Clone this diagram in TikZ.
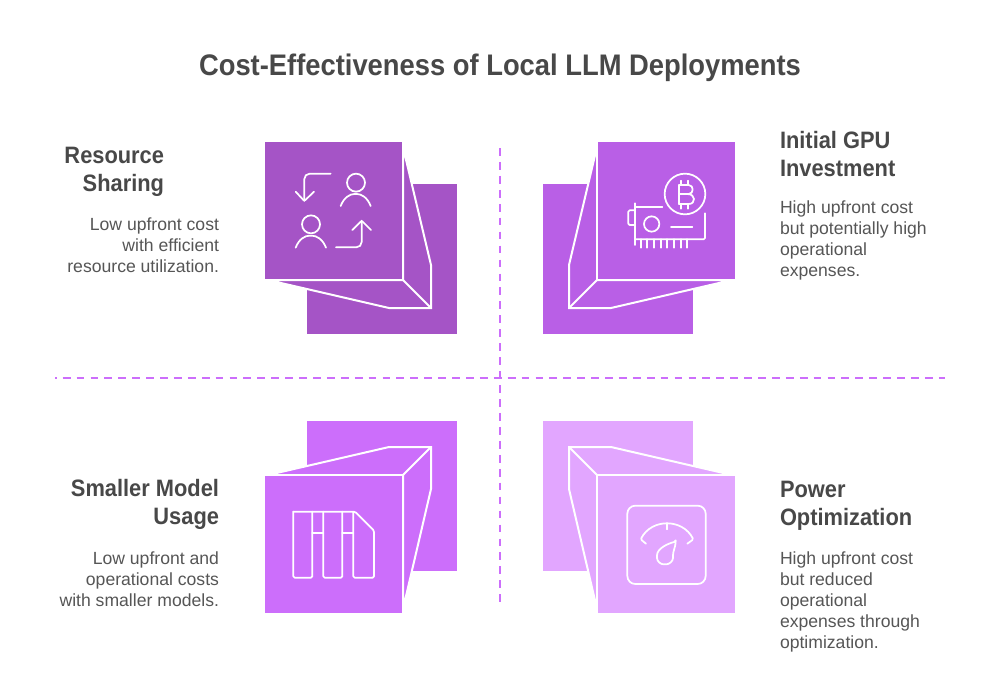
\documentclass[tikz,border=0pt]{standalone}
\usepackage{fontspec}
\setmainfont{Liberation Sans}[BoldFeatures={FakeStretch=0.92}]
\definecolor{tlc}{HTML}{A554C6}
\definecolor{trc}{HTML}{B95FE6}
\definecolor{blc}{HTML}{CC6EFB}
\definecolor{brc}{HTML}{E2A6FF}
\definecolor{dashc}{HTML}{CC6EFB}
\definecolor{headc}{HTML}{484848}
\definecolor{bodyc}{HTML}{565656}
\tikzset{
  facepoly/.style={draw=white,line width=1.5pt,line join=miter,miter limit=40},
  edgeline/.style={draw=white,line width=1.5pt},
  iconline/.style={draw=white,line width=1.3pt,line cap=round,line join=round,rounded corners=1pt},
  divider/.style={draw=dashc,line width=1.6pt},
  hdash/.style={dash pattern=on 5.85pt off 4.58pt,dash phase=4.65pt},
  vdash/.style={dash pattern=on 5.8pt off 4.66pt},
  txt/.style={inner sep=0pt,outer sep=0pt,execute at begin node={\rule{0pt}{10pt}}},
  heading/.style={txt,text=headc,font=\bfseries\fontsize{17.8pt}{21pt}\selectfont},
  body/.style={txt,text=bodyc,font=\fontsize{13.2pt}{15.75pt}\selectfont},
  titletext/.style={inner sep=0pt,text=headc,font=\bfseries\fontsize{22.3pt}{26pt}\selectfont},
  iconscope/.style={x=.25pt,y=-.25pt}
}
\begin{document}
\begin{tikzpicture}[x=.75pt,y=-.75pt]
\useasboundingbox (0,0) rectangle (1000,700);
\fill[white] (0,0) rectangle (1000,700);

\node[titletext,anchor=base] (title) at (500,75) {Cost-Effectiveness of Local LLM Deployments};

% dividers
\coordinate (hl) at (55,378);
\coordinate (hr) at (945,378);
\coordinate (vt) at (500,148);
\coordinate (vb) at (500,608);
\draw[divider,hdash] (hl) -- (hr);
\draw[divider,vdash] (vt) -- (vb);

% top left
\fill[tlc] (307,184) rectangle (457,334);
\path[fill=tlc,facepoly] (403,147) -- (431,265) -- (431,308) -- (389,308) -- (268,280) -- (403,280) -- cycle;
\draw[edgeline] (403,280) -- (431,308);
\fill[tlc] (265,142) rectangle (402,279);

% top right
\fill[trc] (543,184) rectangle (693,334);
\path[fill=trc,facepoly] (597,147) -- (569,265) -- (569,308) -- (611,308) -- (732,280) -- (597,280) -- cycle;
\draw[edgeline] (597,280) -- (569,308);
\fill[trc] (598,142) rectangle (735,279);

% bottom left
\fill[blc] (307,421) rectangle (457,571);
\path[fill=blc,facepoly] (403,609) -- (431,489) -- (431,447) -- (389,447) -- (268,475) -- (403,475) -- cycle;
\draw[edgeline] (403,475) -- (431,447);
\fill[blc] (265,476) rectangle (402,613);

% bottom right
\fill[brc] (543,421) rectangle (693,571);
\path[fill=brc,facepoly] (597,609) -- (569,489) -- (569,447) -- (611,447) -- (732,475) -- (597,475) -- cycle;
\draw[edgeline] (597,475) -- (569,447);
\fill[brc] (598,476) rectangle (735,613);

% icon: people swapping
\begin{scope}[shift={(250,130)},iconscope]
\draw[iconline,rounded corners=4pt] (242,131) -- (163,131) -- (163,213);
\draw[iconline] (137,185) -- (163,213) -- (192,185);
\draw[iconline] (318,158) circle[radius=27];
\draw[iconline] (272,228) .. controls (282,202) and (300,192) .. (317,192) .. controls (334,192) and (352,202) .. (362,228);
\draw[iconline] (183,283) circle[radius=27];
\draw[iconline] (137,353) .. controls (147,327) and (165,317) .. (182,317) .. controls (199,317) and (218,327) .. (228,353);
\draw[iconline,rounded corners=4pt] (258,352) -- (335,352) -- (335,272);
\draw[iconline] (307,300) -- (335,272) -- (363,300);
\end{scope}

% icon: GPU and coin
\begin{scope}[shift={(530,130)},iconscope]
\draw[iconline] (465,192) circle[radius=61];
\draw[iconline] (447,165) -- (447,222);
\draw[iconline] (447,165) -- (472,165) .. controls (492,165) and (492,192) .. (472,192) -- (447,192);
\draw[iconline] (472,192) .. controls (498,192) and (498,222) .. (472,222) -- (447,222);
\draw[iconline] (453,152) -- (453,165) (475,152) -- (475,165) (453,222) -- (453,236) (475,222) -- (475,236);
\draw[iconline] (397,231) -- (315,231);
\draw[iconline] (315,220) -- (315,345);
\draw[iconline] (315,328) -- (525,328) -- (525,250);
\draw[iconline] (315,241) -- (295,241) -- (295,285) -- (315,285);
\draw[iconline] (365,282) circle[radius=23];
\draw[iconline] (423,292) -- (487,292);
\foreach \tx in {333,352,372,392,412,432,452,472}{\draw[iconline] (\tx,328) -- (\tx,353);}
\end{scope}

% icon: model blocks
\begin{scope}[shift={(250,410)},iconscope]
\draw[iconline] (130,305) -- (315,305) -- (372,362) -- (372,503) -- (310,503) -- (310,305);
\draw[iconline] (130,305) -- (130,503) -- (187,503) -- (187,305);
\draw[iconline] (220,305) -- (220,503) -- (277,503) -- (277,305);
\draw[iconline] (187,368) -- (220,368) (277,368) -- (310,368);
\end{scope}

% icon: gauge
\begin{scope}[shift={(530,410)},iconscope]
\draw[iconline,rounded corners=6pt] (292,287) rectangle (527,522);
\draw[iconline] (348,401) -- (332,388) .. controls (365,325) and (457,325) .. (490,388) -- (472,401);
\draw[iconline] (410,340) -- (410,358);
\draw[iconline] (437,395) .. controls (415,400) and (381,415) .. (381,440) .. controls (381,455) and (393,463) .. (405,463) .. controls (418,463) and (429,453) .. (429,440) .. controls (429,425) and (436,410) .. (437,395) -- cycle;
\end{scope}

% labels (y = first baseline - 13.33)
\node[heading,anchor=north east,align=right] (h1) at (164,146.67) {Resource\\Sharing};
\node[body,anchor=north east,align=right] (b1) at (219,217.67) {Low upfront cost\\with efficient\\resource utilization.};
\node[heading,anchor=north west,align=left] (h2) at (780,131.67) {Initial GPU\\Investment};
\node[body,anchor=north west,align=left] (b2) at (780,200.67) {High upfront cost\\but potentially high\\operational\\expenses.};
\node[heading,anchor=north east,align=right] (h3) at (219,479.67) {Smaller Model\\Usage};
\node[body,anchor=north east,align=right] (b3) at (219,551.67) {Low upfront and\\operational costs\\with smaller models.};
\node[heading,anchor=north west,align=left] (h4) at (780,480.67) {Power\\Optimization};
\node[body,anchor=north west,align=left] (b4) at (780,551.67) {High upfront cost\\but reduced\\operational\\expenses through\\optimization.};
\end{tikzpicture}
\end{document}
